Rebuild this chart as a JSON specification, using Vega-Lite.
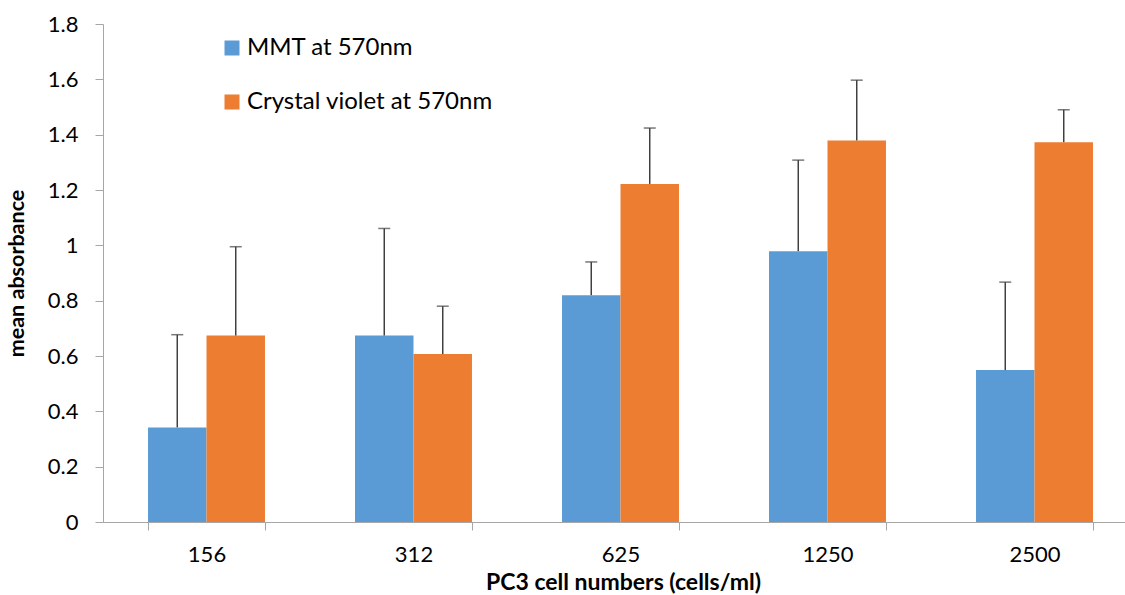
{
  "$schema": "https://vega.github.io/schema/vega-lite/v6.json",
  "width": 1022,
  "height": 498,
  "autosize": {"type": "none"},
  "padding": {"left": 103, "top": 24, "right": 0, "bottom": 73},
  "background": "white",
  "config": {
    "view": {"stroke": null},
    "font": "Lato",
    "axis": {"grid": false, "domainColor": "#a6a6a6", "tickColor": "#a6a6a6", "labelColor": "#000000", "titleColor": "#000000"}
  },
  "data": {
    "values": [
      {"cells": "156", "assay": "MMT at 570nm", "mean": 0.342, "hi": 0.677},
      {"cells": "156", "assay": "Crystal violet at 570nm", "mean": 0.674, "hi": 0.995},
      {"cells": "312", "assay": "MMT at 570nm", "mean": 0.674, "hi": 1.061},
      {"cells": "312", "assay": "Crystal violet at 570nm", "mean": 0.607, "hi": 0.78},
      {"cells": "625", "assay": "MMT at 570nm", "mean": 0.82, "hi": 0.94},
      {"cells": "625", "assay": "Crystal violet at 570nm", "mean": 1.222, "hi": 1.424},
      {"cells": "1250", "assay": "MMT at 570nm", "mean": 0.979, "hi": 1.308},
      {"cells": "1250", "assay": "Crystal violet at 570nm", "mean": 1.379, "hi": 1.597},
      {"cells": "2500", "assay": "MMT at 570nm", "mean": 0.549, "hi": 0.867},
      {"cells": "2500", "assay": "Crystal violet at 570nm", "mean": 1.373, "hi": 1.49}
    ]
  },
  "encoding": {
    "x": {
      "field": "cells",
      "type": "nominal",
      "sort": ["156", "312", "625", "1250", "2500"],
      "scale": {"range": [0, 1035], "paddingInner": 0.435, "paddingOuter": 0.2175},
      "axis": {
        "title": "PC3 cell numbers (cells/ml)",
        "titleFontSize": 23,
        "titleFontWeight": "bold",
        "titleX": 520,
        "titleY": 67,
        "titleBaseline": "alphabetic",
        "labelFontSize": 22,
        "labelAngle": 0,
        "labelPadding": 14,
        "tickSize": 8,
        "tickBand": "extent",
        "labelFontWeight": "normal"
      }
    },
    "xOffset": {
      "field": "assay",
      "type": "nominal",
      "sort": ["MMT at 570nm", "Crystal violet at 570nm"],
      "scale": {"paddingInner": 0, "paddingOuter": 0}
    }
  },
  "layer": [
    {
      "mark": {"type": "bar"},
      "encoding": {
        "y": {
          "field": "mean",
          "type": "quantitative",
          "scale": {"domain": [0, 1.8], "nice": false},
          "axis": {
            "title": "mean absorbance",
            "titleFontSize": 21.5,
            "titleFontWeight": "bold",
            "titleX": -75,
            "titleY": 249,
            "labelFontSize": 22,
            "labelPadding": 17,
            "tickSize": 8,
            "values": [0, 0.2, 0.4, 0.6, 0.8, 1, 1.2, 1.4, 1.6, 1.8],
            "format": "~g"
          }
        },
        "color": {
          "field": "assay",
          "type": "nominal",
          "sort": ["MMT at 570nm", "Crystal violet at 570nm"],
          "scale": {"domain": ["MMT at 570nm", "Crystal violet at 570nm"], "range": ["#5b9bd5", "#ed7d31"]},
          "legend": {
            "title": null,
            "orient": "none",
            "legendX": 117,
            "legendY": 12,
            "padding": 0,
            "symbolType": "square",
            "symbolSize": 225,
            "symbolStrokeWidth": 0,
            "symbolOpacity": 1,
            "labelFontSize": 24,
            "labelColor": "#000000",
            "labelOffset": 3,
            "rowPadding": 30,
            "labelLimit": 400
          }
        }
      }
    },
    {
      "mark": {"type": "rule", "color": "#404040", "strokeWidth": 1.5},
      "encoding": {
        "y": {"field": "mean", "type": "quantitative"},
        "y2": {"field": "hi"}
      }
    },
    {
      "mark": {"type": "tick", "color": "#404040", "thickness": 1.5, "size": 12},
      "encoding": {
        "y": {"field": "hi", "type": "quantitative"}
      }
    }
  ]
}
